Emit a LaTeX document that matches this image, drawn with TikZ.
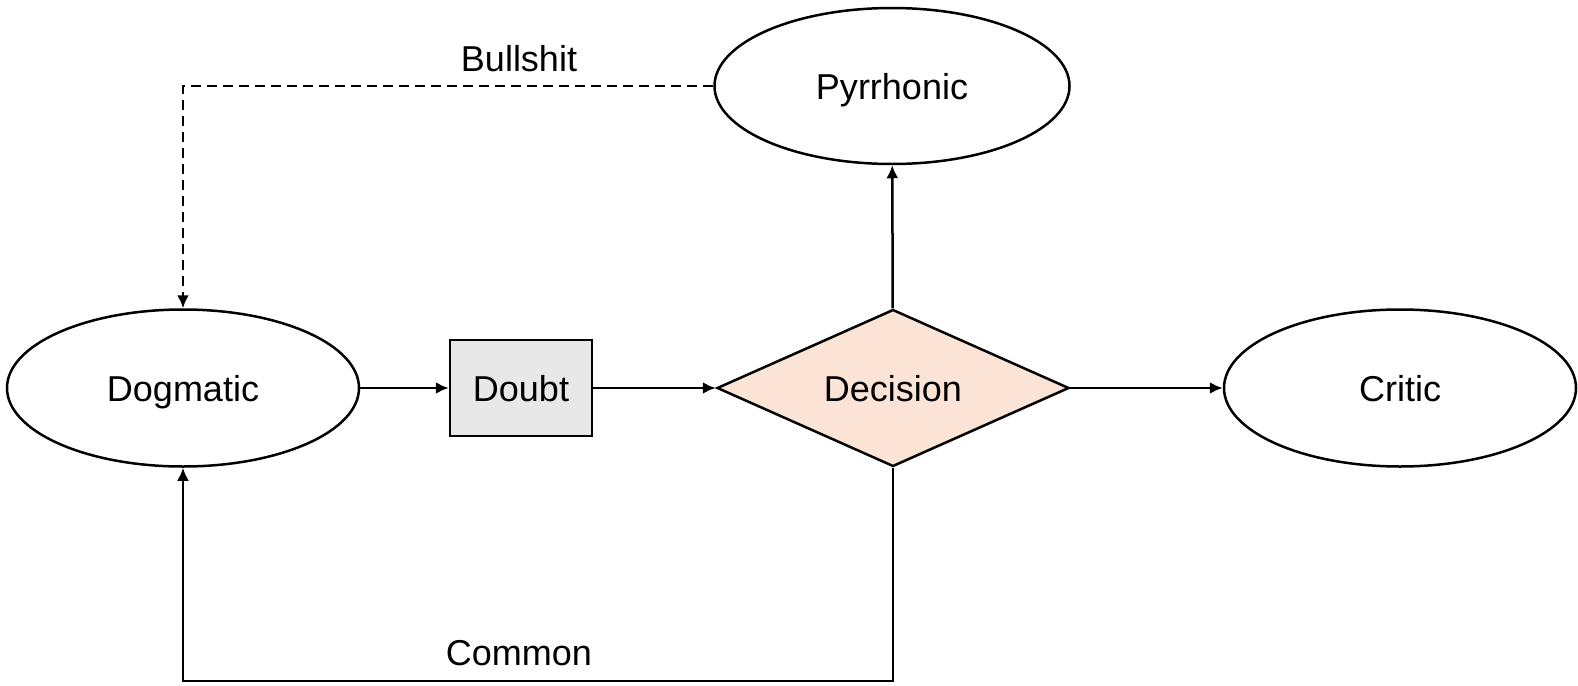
\documentclass[tikz,border=0pt]{standalone}
\usepackage{fontspec}
\setmainfont{Liberation Sans}
\usetikzlibrary{shapes.geometric,arrows.meta}

\begin{document}
\begin{tikzpicture}[x=1pt,y=-1pt,line width=2.5pt,
  every node/.style={font=\fontsize{36}{42}\selectfont,inner sep=0pt,text height=26pt,text depth=0pt},
  state/.style={draw,ellipse,minimum width=352pt,minimum height=157pt},
  box/.style={draw,fill=gray!18,minimum width=142pt,minimum height=96pt},
  choice/.style={draw,diamond,shape aspect=2.24,fill=peach,minimum width=352pt,minimum height=157pt},
  link/.style={-{Latex[length=13pt,width=12pt]}}]
\definecolor{peach}{HTML}{FBE4D5}
\useasboundingbox (0,0) rectangle (1578,685);
\node[state] (dogmatic) at (183,388) {Dogmatic};
\node[box] (doubt) at (521,388) {Doubt};
\node[choice] (decision) at (893,388) {Decision};
\node[state] (critic) at (1400,388) {Critic};
\node[state,minimum width=355pt,minimum height=156pt] (pyrrhonic) at (892,86) {Pyrrhonic};
\draw[link] (dogmatic) -- (doubt);
\draw[link] (doubt) -- (decision);
\draw[link] (decision) -- (critic);
\draw[link] (decision) -- (pyrrhonic);
\draw[link,dash pattern=on 10pt off 6pt] (pyrrhonic.west) -| (dogmatic.north);
\draw[link] (decision.south) |- (183,681) -- (dogmatic.south);
\node (bullshit) at (519,58) {Bullshit};
\node (common) at (519,652) {Common};
\end{tikzpicture}
\end{document}
